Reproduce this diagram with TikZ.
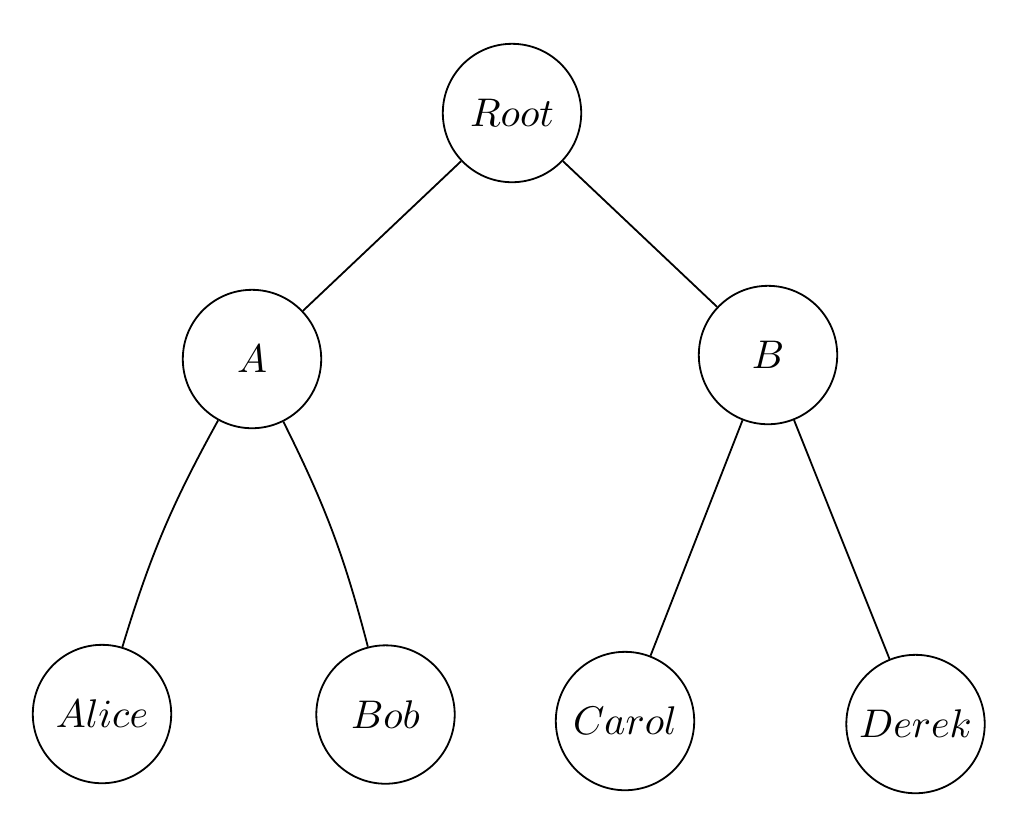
\documentclass[tikz,border=0pt]{standalone}
\begin{document}
\begin{tikzpicture}[x=0.25pt,y=-0.25pt,
  treenode/.style={circle,draw,line width=0.45pt,minimum size=34.6pt,inner sep=0pt},
  edge/.style={line width=0.45pt}]
\useasboundingbox (0,0) rectangle (1024,829);
\node[treenode] (root)  at (512,113) {$Root$};
\node[treenode] (a)     at (252,359) {$A$};
\node[treenode] (b)     at (768,355) {$B$};
\node[treenode] (alice) at (102,714) {$Alice$};
\node[treenode] (bob)   at (385.5,714.5) {$Bob$};
\node[treenode] (carol) at (625,721) {$Carol$};
\node[treenode] (derek) at (915.5,724) {$Derek$};
\draw[edge] (root) -- (a);
\draw[edge] (root) -- (b);
\draw[edge] (a) to[bend right=6] (alice);
\draw[edge] (a) to[bend left=6] (bob);
\draw[edge] (b) -- (carol);
\draw[edge] (b) -- (derek);
\end{tikzpicture}
\end{document}
